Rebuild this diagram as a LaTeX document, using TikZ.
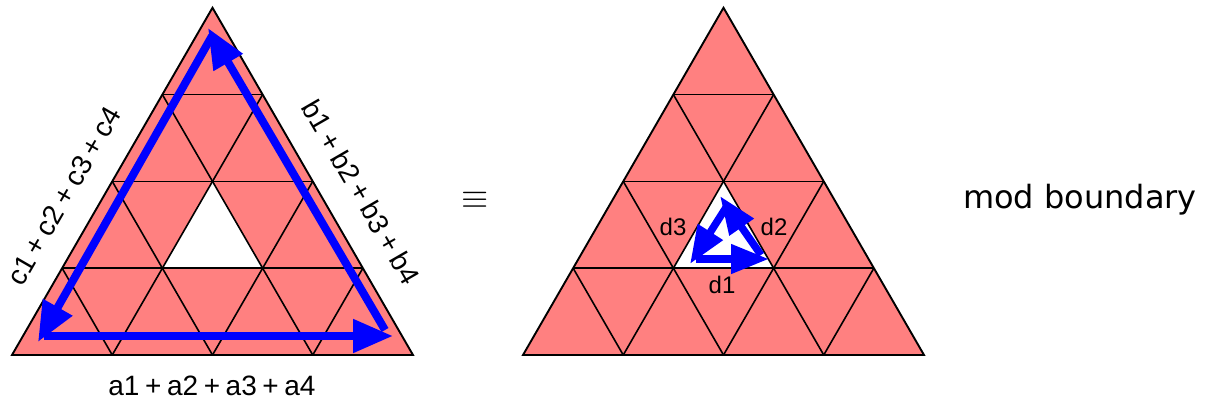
\documentclass[tikz,border=0pt]{standalone}
\usepackage{fontspec}
\newfontfamily\helv{Liberation Sans}
\newfontfamily\modfont{DejaVu Sans}
\usetikzlibrary{arrows.meta}
\definecolor{tri}{RGB}{255,128,128}
\newcommand\pl{\hspace{0.2em}+\hspace{0.2em}}
\newcommand\trigridpic{%
  \fill[tri] (0,0) -- (401,0) -- (200.5,-347.27) -- cycle;
  \fill[white] (150.375,-86.82) -- (250.625,-86.82) -- (200.5,-173.64) -- cycle;
  \foreach \j in {1,2,3}{\draw[gridline] ({\j*50.125},{-\j*86.82}) -- ({401-\j*50.125},{-\j*86.82});}
  \foreach \i in {1,2,3}{%
    \draw[gridline] ({\i*100.25},0) -- ({\i*100.25+(4-\i)*50.125},{-(4-\i)*86.82});
    \draw[gridline] ({\i*100.25},0) -- ({\i*50.125},{-\i*86.82});}
  \draw[outline] (0,0) -- (401,0) -- (200.5,-347.27) -- cycle;
}
\begin{document}
\begin{tikzpicture}[x=1pt,y=-1pt,
  gridline/.style={black,line width=1.6pt},
  outline/.style={black,line width=1.9pt,line join=miter},
  bigarrow/.style={blue,line width=8pt,-{Triangle[length=40pt,width=32pt]}},
  smallarrow/.style={blue,line width=7.5pt,-{Triangle[length=38pt,width=28pt]}},
  lbl/.style={font=\helv\fontsize{28}{28}\selectfont,inner sep=0pt},
  dlbl/.style={font=\helv\fontsize{24}{24}\selectfont,inner sep=0pt}]
\useasboundingbox (0,0) rectangle (1210,405);
% left triangle
\begin{scope}[shift={(12,355)}]\trigridpic\end{scope}
% right triangle
\begin{scope}[shift={(523,355)}]\trigridpic\end{scope}
% big cycle
\coordinate (bl0) at (44,336);
\coordinate (bl) at (38,342);
\coordinate (br) at (393,336);
\coordinate (br0) at (385,330);
\coordinate (tp) at (208,28);
\coordinate (tp0) at (212,36);
\draw[bigarrow] (bl0) -- (br);
\draw[bigarrow] (br0) -- (tp);
\draw[bigarrow] (tp0) -- (bl);
% small cycle
\coordinate (sbl0) at (696,259);
\coordinate (sbl) at (690,264);
\coordinate (sbr) at (769,259);
\coordinate (sbr0) at (761,255);
\coordinate (stp) at (720,196);
\coordinate (stp0) at (727,206);
\draw[smallarrow] (sbl0) -- (sbr);
\draw[smallarrow] (sbr0) -- (stp);
\draw[smallarrow] (stp0) -- (sbl);
% labels
\node[lbl] (la) at (212,386) {a1\pl a2\pl a3\pl a4};
\node[lbl,rotate=60] (lc) at (64,196) {c1\pl c2\pl c3\pl c4};
\node[lbl,rotate=-60] (lb) at (361,192) {b1\pl b2\pl b3\pl b4};
\node[dlbl] (d1) at (722,285) {d1};
\node[dlbl] (d2) at (774,227) {d2};
\node[dlbl] (d3) at (673,227) {d3};
\node[inner sep=0pt] (eq) at (475,200) {\scalebox{3.5}{$\equiv$}};
\node[inner sep=0pt,font=\modfont\fontsize{32}{32}\selectfont] (mod) at (1080,200) {mod boundary};
\end{tikzpicture}
\end{document}
